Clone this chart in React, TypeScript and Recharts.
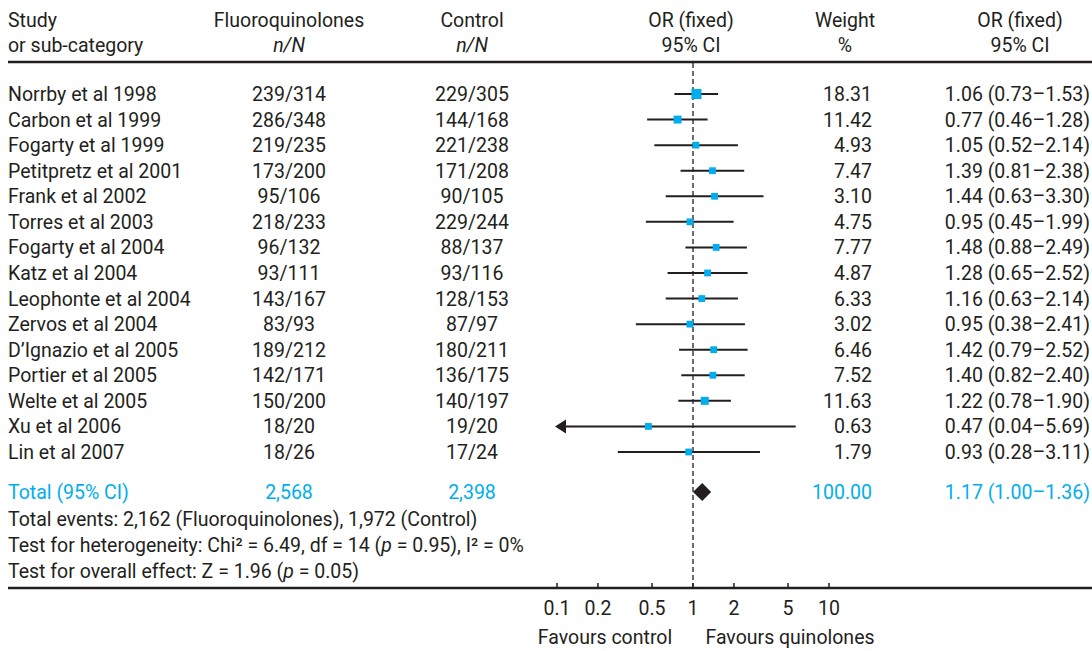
import React from 'react';
import { ScatterChart, Scatter, XAxis, YAxis, ErrorBar, ReferenceLine } from 'recharts';

// Forest plot: fluoroquinolones vs control, OR (fixed) with 95% CI

const studies = [
  'Norrby et al 1998', 'Carbon et al 1999', 'Fogarty et al 1999', 'Petitpretz et al 2001',
  'Frank et al 2002', 'Torres et al 2003', 'Fogarty et al 2004', 'Katz et al 2004',
  'Leophonte et al 2004', 'Zervos et al 2004', 'D\u2019Ignazio et al 2005', 'Portier et al 2005',
  'Welte et al 2005', 'Xu et al 2006', 'Lin et al 2007',
];
const fqCounts = ['239/314', '286/348', '219/235', '173/200', '95/106', '218/233', '96/132', '93/111', '143/167', '83/93', '189/212', '142/171', '150/200', '18/20', '18/26'];
const controlCounts = ['229/305', '144/168', '221/238', '171/208', '90/105', '229/244', '88/137', '93/116', '128/153', '87/97', '180/211', '136/175', '140/197', '19/20', '17/24'];
const weights = [18.31, 11.42, 4.93, 7.47, 3.10, 4.75, 7.77, 4.87, 6.33, 3.02, 6.46, 7.52, 11.63, 0.63, 1.79];
const orValues = [1.06, 0.77, 1.05, 1.39, 1.44, 0.95, 1.48, 1.28, 1.16, 0.95, 1.42, 1.40, 1.22, 0.47, 0.93];
const ciLower = [0.73, 0.46, 0.52, 0.81, 0.63, 0.45, 0.88, 0.65, 0.63, 0.38, 0.79, 0.82, 0.78, 0.04, 0.28];
const ciUpper = [1.53, 1.28, 2.14, 2.38, 3.30, 1.99, 2.49, 2.52, 2.14, 2.41, 2.52, 2.40, 1.90, 5.69, 3.11];

const totalFq = '2,568';
const totalControl = '2,398';
const totalWeight = 100.0;
const totalOr = 1.17;
const totalLower = 1.0;
const totalUpper = 1.36;

const axisTicks = [0.1, 0.2, 0.5, 1, 2, 5, 10];

// layout
const CHART_W = 1092;
const CHART_H = 651;
const MARGIN = { top: 62, right: 0, bottom: 33, left: 8 };
const X_AXIS_H = 30;
const ZERO_PX = 693;
const PX_PER_LOG = 136;
const X_MIN = (MARGIN.left - ZERO_PX) / PX_PER_LOG;
const X_MAX = (CHART_W - MARGIN.right - ZERO_PX) / PX_PER_LOG;
const ROW_PX = 25.57;
const FIRST_ROW_PX = 94;
const PLOT_BOTTOM = CHART_H - MARGIN.bottom - X_AXIS_H;
const Y_MIN = (MARGIN.top - FIRST_ROW_PX) / ROW_PX;
const Y_MAX = (PLOT_BOTTOM - FIRST_ROW_PX) / ROW_PX;
const TOTAL_ROW = 15.57;
const AXIS_LOW = 0.1;

const INK = '#231f20';
const CYAN = '#00aeef';
const FONT = 'Roboto, "Liberation Sans", sans-serif';
const FS = 19.5;

const COL = { study: 8, fq: 289, ctrl: 472, weight: 872, ci: 1090 };

const fmtCi = (or: number, lo: number, hi: number) =>
  `${or.toFixed(2)} (${lo.toFixed(2)}\u2013${hi.toFixed(2)})`;

const studyRows = studies.map((name, i) => {
  const x = Math.log10(orValues[i]);
  const lo = Math.max(ciLower[i], AXIS_LOW);
  return {
    name,
    x,
    y: i,
    err: [x - Math.log10(lo), Math.log10(ciUpper[i]) - x],
    clipped: ciLower[i] < AXIS_LOW,
    weight: weights[i],
    fq: fqCounts[i],
    ctrl: controlCounts[i],
    label: fmtCi(orValues[i], ciLower[i], ciUpper[i]),
  };
});

const totalRows = [{
  x: Math.log10(totalOr),
  y: TOTAL_ROW,
  lo: Math.log10(totalLower),
  hi: Math.log10(totalUpper),
}];

const txt = { fontFamily: FONT, fontSize: FS } as const;

const StudyShape = (props: any) => {
  const { cx, cy, payload } = props;
  const side = Math.max(6.8, Math.sqrt(payload.weight) * 2.35);
  const base = cy + 7;
  let arrow = null;
  if (payload.clipped) {
    const tip = cx + (Math.log10(AXIS_LOW) - payload.x) * PX_PER_LOG - 2;
    arrow = <polygon points={`${tip},${cy} ${tip + 11},${cy - 7} ${tip + 11},${cy + 7}`} fill={INK} />;
  }
  return (
    <g>
      {arrow}
      <rect x={cx - side / 2} y={cy - side / 2} width={side} height={side} fill={CYAN} />
      <text x={COL.study} y={base} fill={INK} {...txt}>{payload.name}</text>
      <text x={COL.fq} y={base} fill={INK} textAnchor="middle" {...txt}>{payload.fq}</text>
      <text x={COL.ctrl} y={base} fill={INK} textAnchor="middle" {...txt}>{payload.ctrl}</text>
      <text x={COL.weight} y={base} fill={INK} textAnchor="end" {...txt}>{payload.weight.toFixed(2)}</text>
      <text x={COL.ci} y={base} fill={INK} textAnchor="end" {...txt}>{payload.label}</text>
    </g>
  );
};

const TotalShape = (props: any) => {
  const { cx, cy, payload } = props;
  const left = cx + (payload.lo - payload.x) * PX_PER_LOG;
  const right = cx + (payload.hi - payload.x) * PX_PER_LOG;
  const h = 9;
  const base = cy + 7;
  return (
    <g>
      <polygon points={`${left},${cy} ${cx},${cy - h} ${right},${cy} ${cx},${cy + h}`} fill={INK} />
      <text x={COL.study} y={base} fill={CYAN} {...txt}>Total (95% CI)</text>
      <text x={COL.fq} y={base} fill={CYAN} textAnchor="middle" {...txt}>{totalFq}</text>
      <text x={COL.ctrl} y={base} fill={CYAN} textAnchor="middle" {...txt}>{totalControl}</text>
      <text x={COL.weight} y={base} fill={CYAN} textAnchor="end" {...txt}>{totalWeight.toFixed(2)}</text>
      <text x={COL.ci} y={base} fill={CYAN} textAnchor="end" {...txt}>{fmtCi(totalOr, totalLower, totalUpper)}</text>
    </g>
  );
};

const AxisTick = (props: any) => {
  const { x, y, payload } = props;
  const v = Math.pow(10, payload.value);
  const label = v >= 1 ? String(Math.round(v)) : String(Math.round(v * 10) / 10);
  return (
    <g>
      <line x1={x} x2={x} y1={y - 5} y2={y} stroke={INK} strokeWidth={1.5} />
      <text x={x} y={y + 27} fill={INK} textAnchor="middle" {...txt}>{label}</text>
    </g>
  );
};

const Overlay = () => (
  <svg width={CHART_W} height={CHART_H} style={{ position: 'absolute', left: 0, top: 0, pointerEvents: 'none' }}>
    <g fill={INK} fontFamily={FONT} fontSize={FS}>
      <text x={COL.study} y={27}>Study</text>
      <text x={COL.study} y={52}>or sub-category</text>
      <text x={COL.fq} y={27} textAnchor="middle">Fluoroquinolones</text>
      <text x={COL.fq} y={52} textAnchor="middle" fontStyle="italic">n/N</text>
      <text x={COL.ctrl} y={27} textAnchor="middle">Control</text>
      <text x={COL.ctrl} y={52} textAnchor="middle" fontStyle="italic">n/N</text>
      <text x={691} y={27} textAnchor="middle">OR (fixed)</text>
      <text x={691} y={52} textAnchor="middle">95% CI</text>
      <text x={845} y={27} textAnchor="middle">Weight</text>
      <text x={845} y={52} textAnchor="middle">%</text>
      <text x={1020} y={27} textAnchor="middle">OR (fixed)</text>
      <text x={1020} y={52} textAnchor="middle">95% CI</text>

      <text x={COL.study} y={526}>Total events: 2,162 (Fluoroquinolones), 1,972 (Control)</text>
      <text x={COL.study} y={552}>
        Test for heterogeneity: Chi² = 6.49, df = 14 (<tspan fontStyle="italic">p</tspan> = 0.95), I² = 0%
      </text>
      <text x={COL.study} y={578}>
        Test for overall effect: Z = 1.96 (<tspan fontStyle="italic">p</tspan> = 0.05)
      </text>

      <text x={605} y={644} textAnchor="middle">Favours control</text>
      <text x={790} y={644} textAnchor="middle">Favours quinolones</text>
    </g>
  </svg>
);

export default function App() {
  return (
    <div style={{ position: 'absolute', left: 0, top: 0, width: CHART_W, height: CHART_H, background: '#fff', fontFamily: FONT }}>
      <ScatterChart width={CHART_W} height={CHART_H} margin={MARGIN}>
        <XAxis
          type="number"
          dataKey="x"
          domain={[X_MIN, X_MAX]}
          ticks={axisTicks.map((t) => Math.log10(t))}
          height={X_AXIS_H}
          tickSize={0}
          tickMargin={0}
          tickLine={false}
          tick={<AxisTick />}
          axisLine={{ stroke: INK, strokeWidth: 2.5 }}
          interval={0}
        />
        <YAxis type="number" dataKey="y" domain={[Y_MIN, Y_MAX]} reversed hide />
        <ReferenceLine y={Y_MIN} stroke={INK} strokeWidth={2.5} />
        <ReferenceLine x={0} stroke={INK} strokeWidth={1.3} strokeDasharray="5 3" />
        <Scatter data={studyRows} shape={<StudyShape />} isAnimationActive={false}>
          <ErrorBar dataKey="err" direction="x" width={0} stroke={INK} strokeWidth={2} isAnimationActive={false} />
        </Scatter>
        <Scatter data={totalRows} shape={<TotalShape />} isAnimationActive={false} />
      </ScatterChart>
      <Overlay />
    </div>
  );
}
